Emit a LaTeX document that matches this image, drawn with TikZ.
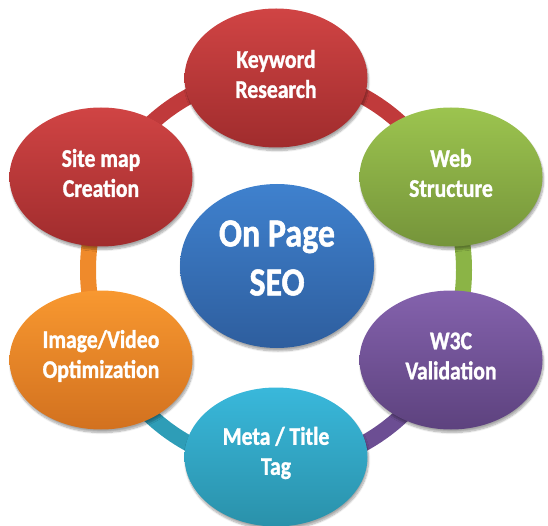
\documentclass[tikz,border=0pt]{standalone}
\usepackage{fontspec}
\setmainfont{Carlito}[FakeStretch=0.85, BoldFeatures={FakeBold=1.2}]
\usetikzlibrary{shapes.geometric,shadows.blur}
\definecolor{redT}{HTML}{D04444}
\definecolor{redB}{HTML}{A02C2D}
\definecolor{grnT}{HTML}{9CC44F}
\definecolor{grnB}{HTML}{75943A}
\definecolor{bluT}{HTML}{3F81CE}
\definecolor{bluB}{HTML}{2E5E9E}
\definecolor{orgT}{HTML}{F89830}
\definecolor{orgB}{HTML}{D2711F}
\definecolor{purT}{HTML}{8462AD}
\definecolor{purB}{HTML}{5D427E}
\definecolor{cyaT}{HTML}{39B8DB}
\definecolor{cyaB}{HTML}{2A91AA}
\definecolor{ringR}{HTML}{C03A3B}
\definecolor{ringG}{HTML}{8BB446}
\definecolor{ringP}{HTML}{6C4E93}
\definecolor{ringC}{HTML}{2E9DB7}
\definecolor{ringO}{HTML}{EF8A2B}
\tikzset{
  bub/.style={ellipse, minimum width=183pt, minimum height=139pt, inner sep=0pt,
    blur shadow={shadow xshift=1pt, shadow yshift=-3pt, shadow blur steps=8, shadow opacity=35}},
  bigbub/.style={bub, minimum width=194pt, minimum height=164pt},
  txt/.style={text=white, font=\bfseries\fontsize{25.5}{30}\selectfont, align=center, inner sep=0pt},
  bigtxt/.style={text=white, font=\bfseries\fontsize{40}{49}\selectfont, align=center, inner sep=0pt},
  ring/.style={line width=16pt}
}
\begin{document}
\begin{tikzpicture}[x=1pt,y=-1pt]
\useasboundingbox (0,0) rectangle (548,526);
% ring
\coordinate (rc) at (276,270);
\draw[ring,ringR] ([shift={(rc)}]210:188 and 196) arc[start angle=210,end angle=270,x radius=188,y radius=196];
\draw[ring,ringR] ([shift={(rc)}]270:188 and 196) arc[start angle=270,end angle=330,x radius=188,y radius=196];
\draw[ring,ringG] ([shift={(rc)}]330:188 and 196) arc[start angle=330,end angle=390,x radius=188,y radius=196];
\draw[ring,ringP] ([shift={(rc)}]30:188 and 196) arc[start angle=30,end angle=90,x radius=188,y radius=196];
\draw[ring,ringC] ([shift={(rc)}]90:188 and 196) arc[start angle=90,end angle=150,x radius=188,y radius=196];
\draw[ring,ringO] ([shift={(rc)}]150:188 and 196) arc[start angle=150,end angle=210,x radius=188,y radius=196];
% bubbles
\node[bub, top color=redT, bottom color=redB] (kw) at (276,78) {};
\node[bub, top color=grnT, bottom color=grnB] (web) at (451,177) {};
\node[bub, top color=purT, bottom color=purB] (w3c) at (451,360) {};
\node[bub, top color=cyaT, bottom color=cyaB] (meta) at (276,457) {};
\node[bub, top color=orgT, bottom color=orgB] (img) at (101,360) {};
\node[bub, top color=redT, bottom color=redB] (site) at (101,177) {};
\node[bigbub, top color=bluT, bottom color=bluB] (seo) at (277,266) {};
% texts
\node[txt] (kwt) at ([yshift=4pt]kw.center) {Keyword\\Research};
\node[txt] (webt) at ([yshift=4pt]web.center) {Web\\Structure};
\node[txt] (w3ct) at ([yshift=4pt]w3c.center) {W3C\\Validation};
\node[txt] (metat) at ([yshift=4pt]meta.center) {Meta / Title\\Tag};
\node[txt] (imgt) at ([yshift=4pt]img.center) {Image/Video\\Optimization};
\node[txt] (sitet) at ([yshift=4pt]site.center) {Site map\\Creation};
\node[bigtxt] (seot) at ([yshift=8pt]seo.center) {On Page\\SEO};
\end{tikzpicture}
\end{document}
